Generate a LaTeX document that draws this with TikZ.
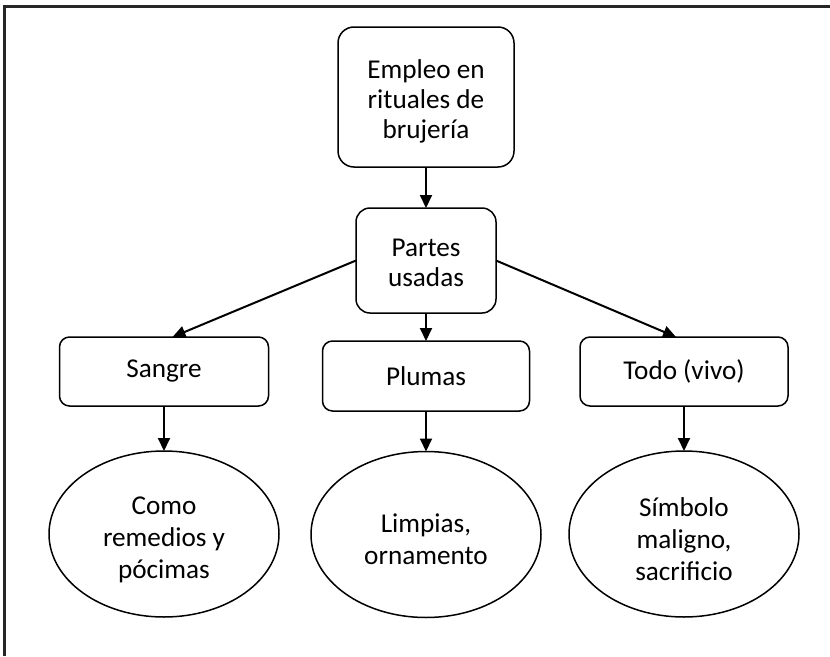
\documentclass[tikz,border=0pt]{standalone}
\usepackage{fontspec}
\setmainfont{Carlito}
\usetikzlibrary{arrows.meta,shapes.geometric}
\newcommand{\lift}[1]{\rule{0pt}{#1pt}}
\begin{document}
\begin{tikzpicture}[x=1pt,y=-1pt,
  txt/.style={font=\fontsize{27.2}{30}\selectfont, align=center, inner sep=0pt, outer sep=0pt},
  rbox/.style={txt, draw, line width=1.5pt, rounded corners=10pt},
  oval/.style={txt, draw, ellipse, line width=1.5pt, minimum width=230pt, minimum height=166pt, font=\fontsize{27.2}{32}\selectfont},
  conn/.style={line width=2pt, -{Triangle[length=13pt,width=12pt]}}
]
\useasboundingbox (0,0) rectangle (830,656);
\fill[white] (0,0) rectangle (830,656);
% partial outer frame
\coordinate (fa) at (4.5,656);
\coordinate (fb) at (4.5,6.5);
\coordinate (fc) at (830,6.5);
\draw[line width=2.5pt, black!85] (fa) -- (fb) -- (fc);

\node[rbox, rounded corners=16pt, minimum width=176pt, minimum height=140pt] (E) at (426,97) {\lift{28}Empleo en\\rituales de\\brujería};
\node[rbox, rounded corners=14pt, minimum width=140pt, minimum height=105pt] (P) at (426,260.5) {\lift{23}Partes\\usadas};
\node[rbox, minimum width=209pt, minimum height=69pt] (S) at (164,371.5) {Sangre};
\node[rbox, minimum width=207pt, minimum height=70pt] (L) at (426,376) {Plumas};
\node[rbox, minimum width=208pt, minimum height=69pt] (T) at (684,371.5) {Todo (vivo)};

\node[oval] (C) at (164,534) {\lift{29}Como\\remedios y\\pócimas};
\node[oval] (O) at (426,534.5) {\lift{29}Limpias,\\ornamento};
\node[oval] (M) at (684,534) {\lift{30}Símbolo\\maligno,\\sacrificio};

\draw[conn] (E.south) -- (P.north);
\draw[conn] (P.west) -- ([xshift=8.5pt]S.north);
\draw[conn] (P.south) -- (L.north);
\draw[conn] (P.east) -- ([xshift=-8pt]T.north);
\draw[conn] (S.south) -- (C.north);
\draw[conn] (L.south) -- (O.north);
\draw[conn] (T.south) -- (M.north);
\end{tikzpicture}
\end{document}
